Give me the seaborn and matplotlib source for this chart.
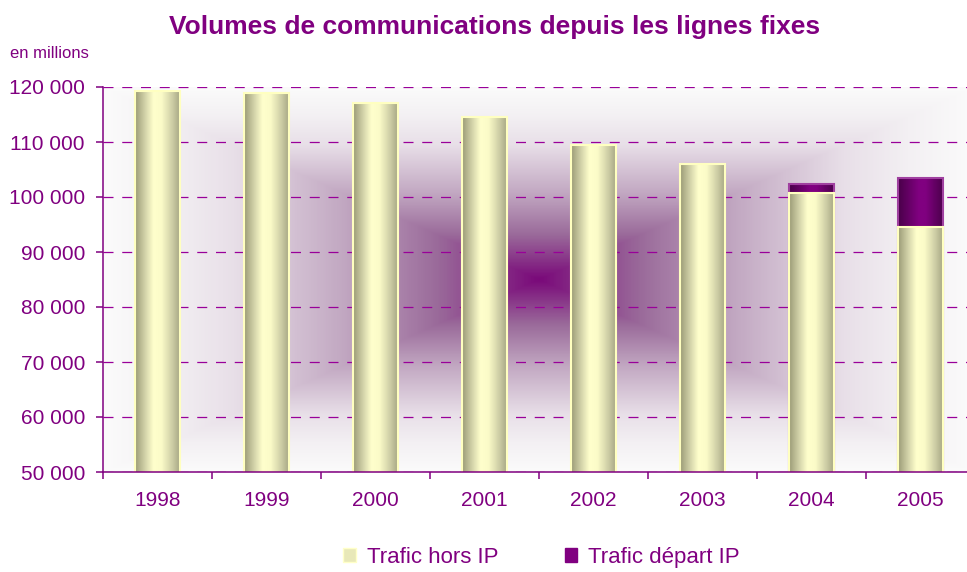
import numpy as np
import pandas as pd
import matplotlib
matplotlib.use("Agg")
import matplotlib.pyplot as plt
import seaborn as sns
from matplotlib.colors import LinearSegmentedColormap
from matplotlib.patches import Patch
from matplotlib.ticker import FuncFormatter, MultipleLocator

# -------------------------------------------------------
# Data (millions of minutes)
# -------------------------------------------------------

years = ["1998", "1999", "2000", "2001", "2002", "2003", "2004", "2005"]
hors_ip = [119300, 118950, 117100, 114500, 109400, 106000, 100700, 94500]
depart_ip = [0, 0, 0, 0, 0, 0, 1750, 8950]

series_names = ["Trafic hors IP", "Trafic départ IP"]

PURPLE = "#800080"

df = pd.DataFrame({"annee": years, "hors": hors_ip, "depart": depart_ip})
df["total"] = df["hors"] + df["depart"]

sns.set_theme(style="white")
plt.rcParams["font.family"] = ["Liberation Sans", "DejaVu Sans"]

fig = plt.figure(figsize=(9.67, 5.72), dpi=100)
ax = fig.add_axes([103 / 967, 1 - 472 / 572, 872 / 967, (472 - 87) / 572])

YMIN, YMAX = 50000, 120000

# -------------------------------------------------------
# Background: rectangular gradient, dark purple in the middle
# -------------------------------------------------------

n = 400
u = np.linspace(-1, 1, n)
uu, vv = np.meshgrid(u, u)
t = np.maximum(np.abs(uu), np.abs(vv))
bg_cmap = LinearSegmentedColormap.from_list(
    "bg", [(0, "#7a0a7a"), (0.23, "#9a6a9a"), (0.45, "#c2a8c2"),
           (0.7, "#e8dfe8"), (0.85, "#f3f0f3"), (1, "#fbfbfb")])
ax.imshow(t, extent=[-0.5, 7.5, YMIN, YMAX], aspect="auto", zorder=0,
          cmap=bg_cmap, interpolation="bilinear")

# -------------------------------------------------------
# Bars (stacked: total in purple, hors IP drawn on top)
# -------------------------------------------------------

sns.barplot(data=df, x="annee", y="total", color=PURPLE, width=0.42,
            ax=ax, saturation=1, zorder=2)
n_purple = len(ax.patches)
sns.barplot(data=df, x="annee", y="hors", color="#ffffcc", width=0.42,
            ax=ax, saturation=1, zorder=4)

ax.set_xlim(-0.5, 7.5)
ax.set_ylim(YMIN, YMAX)

cyl_yellow = LinearSegmentedColormap.from_list(
    "cyl_y", [(0, "#9c9c78"), (0.2, "#cfcfa6"), (0.4, "#ffffcc"),
              (0.58, "#fbfbc8"), (0.82, "#cdcda5"), (1, "#a4a482")])
cyl_purple = LinearSegmentedColormap.from_list(
    "cyl_p", [(0, "#4a004a"), (0.45, "#800080"), (0.6, "#800080"),
              (1, "#4a004a")])
row = np.linspace(0, 1, 64)[None, :]

for i, patch in enumerate(ax.patches):
    x0, y0 = patch.get_x(), patch.get_y()
    w, h = patch.get_width(), patch.get_height()
    if i < n_purple:
        if depart_ip[i] == 0:
            patch.set_visible(False)
            continue
        cmap, z, ec = cyl_purple, 1.9, "#a040a0"
    else:
        cmap, z, ec = cyl_yellow, 3.9, "#ffffc0"
    lo = max(y0, YMIN)
    ax.imshow(row, extent=[x0, x0 + w, lo, y0 + h], aspect="auto",
              cmap=cmap, zorder=z, interpolation="bilinear")
    patch.set_facecolor("none")
    patch.set_edgecolor(ec)
    patch.set_linewidth(1.5)

ax.set_xlim(-0.5, 7.5)
ax.set_ylim(YMIN, YMAX)

# -------------------------------------------------------
# Axes styling
# -------------------------------------------------------

ax.yaxis.set_major_locator(MultipleLocator(10000))
ax.yaxis.set_major_formatter(FuncFormatter(lambda v, p: f"{int(v):,}".replace(",", " ")))
ax.grid(axis="y", color="#990099", linestyle=(0, (8, 7)), linewidth=0.9, zorder=0.5)
ax.set_axisbelow(True)
for spine in ["top", "right"]:
    ax.spines[spine].set_visible(False)
for spine in ["left", "bottom"]:
    ax.spines[spine].set_color(PURPLE)
    ax.spines[spine].set_linewidth(1.1)
    ax.spines[spine].set_zorder(5)

ax.set_xticks(np.arange(-0.5, 8, 1), minor=True)
ax.tick_params(axis="x", which="major", length=0, pad=14, labelsize=15,
               labelcolor=PURPLE)
ax.tick_params(axis="x", which="minor", length=5, width=1.1, color=PURPLE,
               direction="out", bottom=True)
ax.tick_params(axis="y", length=5, width=1.1, color=PURPLE, direction="out",
               left=True, pad=8, labelsize=15, labelcolor=PURPLE)
ax.set_xlabel("")
ax.set_ylabel("")

fig.text(495 / 967, 1 - 27 / 572,
         "Volumes de communications depuis les lignes fixes",
         ha="center", va="center", fontsize=19, fontweight="bold", color=PURPLE)
fig.text(10 / 967, 1 - 54 / 572, "en millions", ha="left", va="center",
         fontsize=12, color=PURPLE)

handles = [Patch(facecolor="#e8e8b8", edgecolor="#ffffc8"),
           Patch(facecolor=PURPLE, edgecolor=PURPLE)]
fig.legend(handles, series_names, loc="lower center", bbox_to_anchor=(0.56, -0.02),
           ncol=2, frameon=False, fontsize=16, labelcolor=PURPLE,
           handlelength=0.55, handleheight=0.55, handletextpad=0.5,
           columnspacing=3.0, borderpad=0.2)

fig.savefig("out.png", dpi=100)
